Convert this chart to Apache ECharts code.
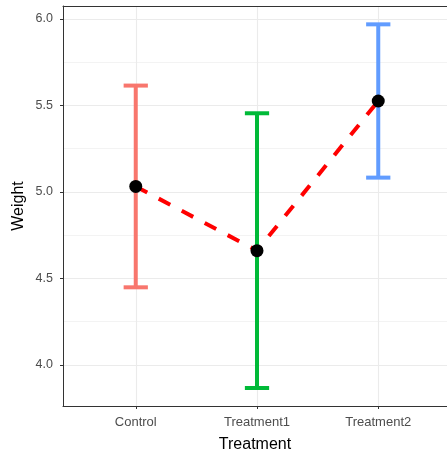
<!DOCTYPE html>
<html>
<head>
<meta charset="utf-8">
<script src="https://cdn.jsdelivr.net/npm/echarts@6/dist/echarts.min.js"></script>
<style>
html,body{margin:0;padding:0;background:#fff;}
#chart{width:447px;height:452px;}
</style>
</head>
<body>
<div id="chart"></div>
<script>
const categories = ['Control', 'Treatment1', 'Treatment2'];
const means = [5.032, 4.661, 5.526];
const lower = [4.449, 3.867, 5.083];
const upper = [5.615, 5.455, 5.969];
const yMajorTicks = [4.0, 4.5, 5.0, 5.5, 6.0];
const yMinorTicks = [4.25, 4.75, 5.25, 5.75];
const xTicks = [0, 1, 2];

const barColors = ['#F8766D', '#00BA38', '#619CFF'];
const FONT = '"Liberation Sans", Arial, sans-serif';

const chart = echarts.init(document.getElementById('chart'), null, {renderer: 'canvas'});

const errData = categories.map((c, i) => [i, lower[i], upper[i]]);
const meanData = categories.map((c, i) => [i, means[i]]);

const gridLines = [
  ...yMajorTicks.map(v => ({yAxis: v, lineStyle: {width: 1.1, color: '#ebebeb', type: 'solid'}})),
  ...yMinorTicks.map(v => ({yAxis: v, lineStyle: {width: 0.6, color: '#ebebeb', type: 'solid'}})),
  ...xTicks.map(v => ({xAxis: v, lineStyle: {width: 1.1, color: '#ebebeb', type: 'solid'}}))
];

chart.setOption({
  animation: false,
  backgroundColor: '#fff',
  grid: {left: 63, top: 6, bottom: 46, right: 0, show: false, containLabel: false, outerBoundsMode: 'none'},
  xAxis: [{
    type: 'value', min: -0.6, max: 2.567,
    name: 'Treatment', nameLocation: 'middle', nameGap: 31,
    nameTextStyle: {fontFamily: FONT, fontSize: 16, color: '#000'},
    axisLine: {show: true, onZero: false, lineStyle: {color: '#333', width: 1}},
    axisTick: {show: true, customValues: xTicks, length: 3, lineStyle: {color: '#333', width: 1}},
    axisLabel: {customValues: xTicks, formatter: v => categories[Math.round(v)], fontFamily: FONT, fontSize: 13, color: '#4d4d4d', margin: 10},
    splitLine: {show: false}
  }, {
    type: 'value', position: 'top', min: -0.6, max: 2.567,
    axisLine: {show: true, onZero: false, lineStyle: {color: '#333', width: 1}},
    axisTick: {show: false}, axisLabel: {show: false}, splitLine: {show: false}
  }],
  yAxis: {
    type: 'value', min: 3.763, max: 6.075,
    name: 'Weight', nameLocation: 'middle', nameGap: 36, nameRotate: 90, nameMoveOverlap: false,
    nameTextStyle: {fontFamily: FONT, fontSize: 16, color: '#000'},
    axisLine: {show: true, onZero: false, lineStyle: {color: '#333', width: 1}},
    axisTick: {show: true, customValues: yMajorTicks, length: 3, lineStyle: {color: '#333', width: 1}},
    axisLabel: {customValues: yMajorTicks, formatter: v => v.toFixed(1), fontFamily: FONT, fontSize: 12.5, color: '#4d4d4d', margin: 10},
    splitLine: {show: false}
  },
  series: [
    {
      type: 'line', data: [], z: 0, silent: true,
      markLine: {silent: true, z: 0, symbol: ['none', 'none'], label: {show: false}, emphasis: {disabled: true}, animation: false, data: gridLines}
    },
    {
      type: 'custom', z: 2,
      data: errData,
      renderItem: function (params, api) {
        const x = api.value(0), lo = api.value(1), hi = api.value(2);
        const pLo = api.coord([x, lo]);
        const pHi = api.coord([x, hi]);
        const l = api.coord([x - 0.1, lo])[0];
        const r = api.coord([x + 0.1, lo])[0];
        const style = {stroke: barColors[params.dataIndex], lineWidth: 4, lineCap: 'butt'};
        return {type: 'group', children: [
          {type: 'line', shape: {x1: pLo[0], y1: pLo[1], x2: pHi[0], y2: pHi[1]}, style: style},
          {type: 'line', shape: {x1: l, y1: pLo[1], x2: r, y2: pLo[1]}, style: style},
          {type: 'line', shape: {x1: l, y1: pHi[1], x2: r, y2: pHi[1]}, style: style}
        ]};
      }
    },
    {
      type: 'line', z: 3, data: meanData, symbol: 'none',
      lineStyle: {color: '#ff0000', width: 4, type: [13, 13], cap: 'butt'}
    },
    {
      type: 'scatter', z: 4, data: meanData, symbol: 'circle', symbolSize: 13,
      itemStyle: {color: '#000', opacity: 1}
    }
  ]
});
</script>
</body>
</html>
